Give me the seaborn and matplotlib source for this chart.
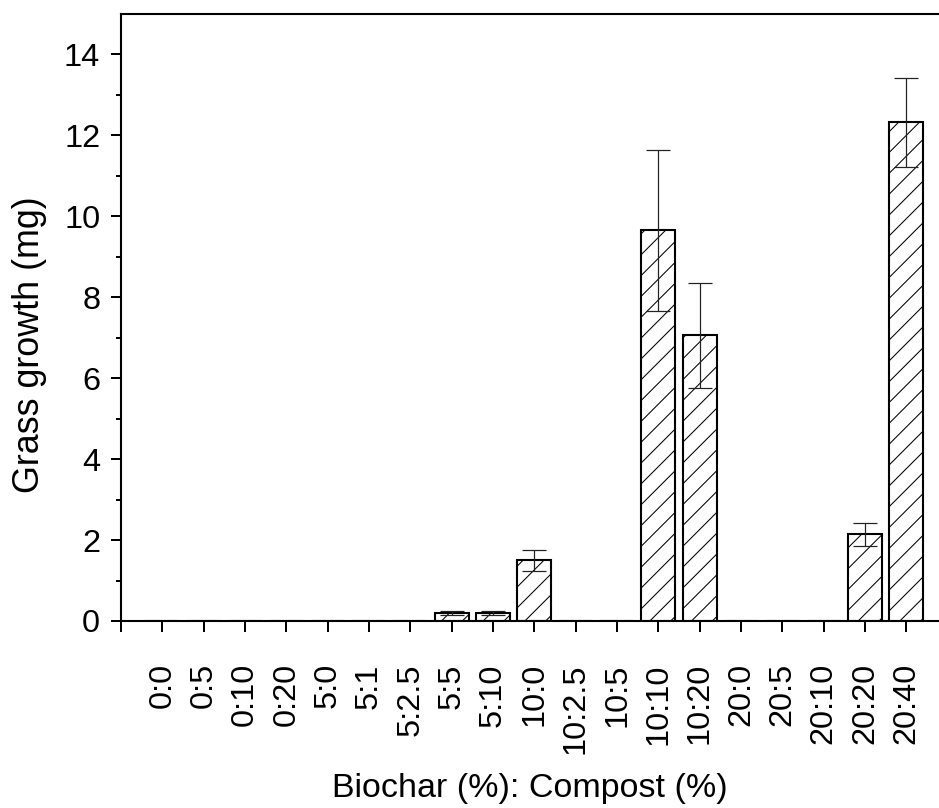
import numpy as np
import pandas as pd
import matplotlib
matplotlib.use("Agg")
import matplotlib.pyplot as plt
import seaborn as sns

# biochar:compost ratios and measured grass growth
ratios = ["0:0", "0:5", "0:10", "0:20", "5:0", "5:1", "5:2.5", "5:5", "5:10",
          "10:0", "10:2.5", "10:5", "10:10", "10:20", "20:0", "20:5", "20:10",
          "20:20", "20:40"]
growth = [0, 0, 0, 0, 0, 0, 0, 0.20, 0.20,
          1.50, 0, 0, 9.65, 7.06, 0, 0, 0,
          2.14, 12.32]
growth_err = [0, 0, 0, 0, 0, 0, 0, 0.05, 0.04,
              0.26, 0, 0, 1.98, 1.29, 0, 0, 0,
              0.28, 1.10]

df = pd.DataFrame({"ratio": ratios, "growth": growth, "err": growth_err})

sns.set_style("ticks", {"axes.edgecolor": "black", "xtick.color": "black",
                        "ytick.color": "black", "text.color": "black",
                        "axes.labelcolor": "black"})
plt.rcParams['font.family'] = ['Liberation Sans', 'DejaVu Sans']
plt.rcParams['hatch.linewidth'] = 0.6
plt.rcParams['hatch.color'] = 'black'

fig = plt.figure(figsize=(939 / 125, 808 / 125), dpi=125)
ax = fig.add_axes([121 / 939, 1 - 621 / 808, 818 / 939, 607 / 808])

sns.barplot(data=df, x="ratio", y="growth", order=ratios, color="white",
            saturation=1, edgecolor="black", linewidth=1.2, width=0.83,
            errorbar=None, ax=ax)
for p in ax.patches:
    p.set_hatch("//")

# error bars (only where there is a bar)
idx = np.arange(len(ratios))
mask = df["err"].values > 0
ax.errorbar(idx[mask], df["growth"].values[mask], yerr=df["err"].values[mask],
            fmt="none", ecolor="#222222", elinewidth=0.7, capsize=6.8,
            capthick=0.7, zorder=5)

ax.set_xlim(-1, 18.79)
ax.set_ylim(0, 15)
ax.set_xticks(range(-1, len(ratios)))
ax.set_xticklabels([""] + ratios, rotation=90, fontsize=18.7)
ax.set_yticks(range(0, 15, 2))
ax.set_yticks(range(1, 15, 2), minor=True)
ax.tick_params(axis="y", labelsize=18.7)
ax.tick_params(axis="x", which="major", length=6.3, width=1.15, pad=18)
ax.tick_params(axis="y", which="major", length=6, width=1.15, pad=6)
ax.tick_params(axis="y", which="minor", length=3, width=1.15)

for side in ["left", "bottom", "top"]:
    ax.spines[side].set_linewidth(1.2)
    ax.spines[side].set_visible(True)
ax.spines["right"].set_visible(False)

ax.set_xlabel("Biochar (%): Compost (%)", fontsize=19.6, labelpad=11)
ax.set_ylabel("Grass growth (mg)", fontsize=20.7)
ax.yaxis.set_label_coords(-0.091, 0.456)

plt.savefig("out.png", dpi=125)
